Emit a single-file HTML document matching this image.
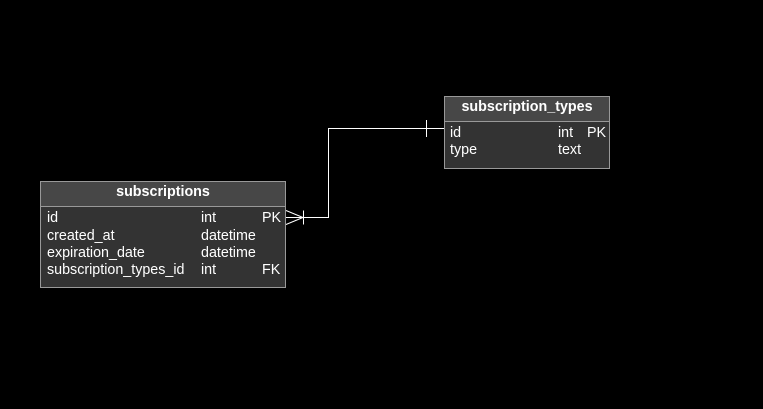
<!DOCTYPE html>
<html><head><style>
body{margin:0;background:#000;width:763px;height:409px;overflow:hidden;position:relative;font-family:"Liberation Sans",Arial,sans-serif;color:#fff;font-size:14.3px}
.t{position:absolute;background:#333;border:1px solid #999;box-sizing:border-box}
.h{background:#474747;border-bottom:1px solid #999;font-weight:bold;text-align:center;box-sizing:border-box}
.r{position:absolute;white-space:nowrap;line-height:16px}
svg{position:absolute;left:0;top:0}
</style></head><body>
<div class="t" style="left:40px;top:181px;width:246px;height:107px">
 <div class="h" style="height:25px;line-height:21px">subscriptions</div>
</div>
<div class="r" style="left:47px;top:210px">id</div><div class="r" style="left:201px;top:210px">int</div><div class="r" style="left:262px;top:210px">PK</div>
<div class="r" style="left:47px;top:228px">created_at</div><div class="r" style="left:201px;top:228px">datetime</div>
<div class="r" style="left:47px;top:245px">expiration_date</div><div class="r" style="left:201px;top:245px">datetime</div>
<div class="r" style="left:47px;top:262px">subscription_types_id</div><div class="r" style="left:201px;top:262px">int</div><div class="r" style="left:262px;top:262px">FK</div>

<div class="t" style="left:444px;top:96px;width:166px;height:73px">
 <div class="h" style="height:25px;line-height:21px">subscription_types</div>
</div>
<div class="r" style="left:450px;top:125px">id</div><div class="r" style="left:558px;top:125px">int</div><div class="r" style="left:587px;top:125px">PK</div>
<div class="r" style="left:450px;top:142px">type</div><div class="r" style="left:558px;top:142px">text</div>

<svg width="763" height="409">
<g stroke="#fff" stroke-width="1" fill="none">
<path d="M286 217.5H328.5V128.5H444"/>
<path d="M286 210.5L303 217.5L286 224.5"/>
<path d="M303.5 210.5V224.5"/>
<path d="M426.5 120V137"/>
</g>
</svg>
</body></html>
